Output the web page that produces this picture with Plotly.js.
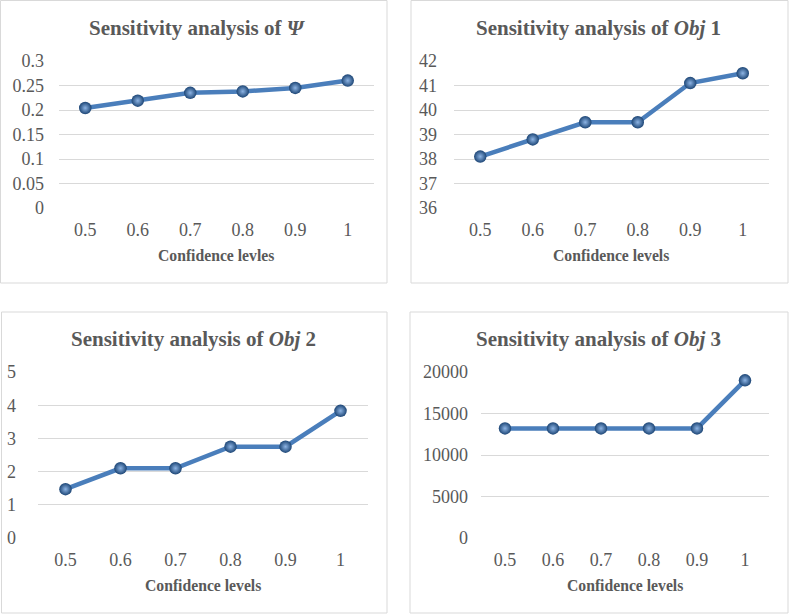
<!DOCTYPE html>
<html><head><meta charset="utf-8">
<script src="https://cdn.plot.ly/plotly-3.0.1.min.js"></script>
<style>html,body{margin:0;padding:0;background:#fff}#c{width:789px;height:615px}</style>
</head><body><div id="c"></div>
<script>
const levels = ['0.5','0.6','0.7','0.8','0.9','1'];
const psiValues = [0.204, 0.219, 0.235, 0.238, 0.245, 0.26];
const obj1Values = [38.1, 38.8, 39.5, 39.5, 41.1, 41.5];
const obj2Values = [1.47, 2.1, 2.1, 2.75, 2.75, 3.83];
const obj3Values = [13200, 13200, 13200, 13200, 13200, 19000];
const psiTicks = [0, 0.05, 0.1, 0.15, 0.2, 0.25, 0.3];
const psiTickText = ['0','0.05','0.1','0.15','0.2','0.25','0.3'];
const obj1Ticks = [36, 37, 38, 39, 40, 41, 42];
const obj2Ticks = [0, 1, 2, 3, 4, 5];
const obj3Ticks = [0, 5000, 10000, 15000, 20000];
const titles = ['Sensitivity analysis of <i>Ψ</i>','Sensitivity analysis of <i>Obj</i> 1','Sensitivity analysis of <i>Obj</i> 2','Sensitivity analysis of <i>Obj</i> 3'];
const xTitles = ['Confidence levles','Confidence levels','Confidence levels','Confidence levels'];

const W = 789, H = 615;
const px = v => v / W, py = v => (H - v) / H;
const lineColor = '#4a7ebb';
const gray = '#595959';
const FONT = 'Liberation Serif, Times New Roman, serif';

function trace(vals, n) {
  return {
    x: levels, y: vals, type: 'scatter', mode: 'lines+markers',
    xaxis: 'x' + (n === 1 ? '' : n), yaxis: 'y' + (n === 1 ? '' : n),
    line: {color: lineColor, width: 4.5},
    marker: {size: 12.5, color: '#1c4575', gradient: {type: 'radial', color: '#8db4e4'}, line: {width: 0}},
    hoverinfo: 'skip', showlegend: false
  };
}
const data = [trace(psiValues,1), trace(obj1Values,2), trace(obj2Values,3), trace(obj3Values,4)];

const panels = [
  {x: [59, 374], y: [61, 208], r: [0, 0.3], tv: psiTicks, tt: psiTickText, box: [0.5, 0.5, 387, 283], tx: 197, ty: 28, ax: 216, ay: 255, ys: 14, xs: 9},
  {x: [454, 769], y: [61, 208], r: [36, 42], tv: obj1Ticks, tt: obj1Ticks.map(String), box: [411, 0.5, 788, 283], tx: 598, ty: 28, ax: 611, ay: 255, ys: 16, xs: 9},
  {x: [38, 368], y: [372, 538], r: [0, 5], tv: obj2Ticks, tt: obj2Ticks.map(String), box: [1.5, 312, 387, 613], tx: 193, ty: 339, ax: 203, ay: 585, ys: 21, xs: 9},
  {x: [481, 769], y: [372, 538], r: [0, 20000], tv: obj3Ticks, tt: obj3Ticks.map(String), box: [410, 312, 788, 613], tx: 598, ty: 339, ax: 625, ay: 585, ys: 12, xs: 9}
];

const layout = {
  width: W, height: H, margin: {l: 0, r: 0, t: 0, b: 0},
  paper_bgcolor: '#fff', plot_bgcolor: 'rgba(0,0,0,0)',
  font: {family: FONT, color: gray, size: 18},
  shapes: [], annotations: []
};
panels.forEach((p, i) => {
  const s = i === 0 ? '' : String(i + 1);
  layout['xaxis' + s] = {
    domain: [px(p.x[0]), px(p.x[1])], anchor: 'y' + s, type: 'category',
    range: [-0.5, 5.5], showgrid: false, zeroline: false, showline: false, ticks: '',
    ticklabelstandoff: p.xs, tickfont: {family: FONT, size: 18, color: gray}, fixedrange: true
  };
  layout['yaxis' + s] = {
    domain: [py(p.y[1]), py(p.y[0])], anchor: 'x' + s, range: p.r,
    tickvals: p.tv, ticktext: p.tt, showgrid: true, gridcolor: '#d9d9d9', gridwidth: 1,
    zeroline: false, showline: false, ticks: '', ticklabelstandoff: p.ys,
    tickfont: {family: FONT, size: 18, color: gray}, fixedrange: true
  };
  layout.shapes.push({type: 'rect', xref: 'paper', yref: 'paper',
    x0: px(p.box[0]), x1: px(p.box[2]), y0: py(p.box[3]), y1: py(p.box[1]),
    line: {color: '#d9d9d9', width: 1}, fillcolor: 'rgba(0,0,0,0)', layer: 'below'});
  layout.annotations.push({text: '<b>' + titles[i] + '</b>', xref: 'paper', yref: 'paper',
    x: px(p.tx), y: py(p.ty), xanchor: 'center', yanchor: 'middle', showarrow: false,
    font: {family: FONT, size: 21, color: gray}});
  layout.annotations.push({text: '<b>' + xTitles[i] + '</b>', xref: 'paper', yref: 'paper',
    x: px(p.ax), y: py(p.ay), xanchor: 'center', yanchor: 'middle', showarrow: false,
    font: {family: FONT, size: 15.7, color: gray}});
});

Plotly.newPlot('c', data, layout, {displayModeBar: false, staticPlot: true});
</script></body></html>
